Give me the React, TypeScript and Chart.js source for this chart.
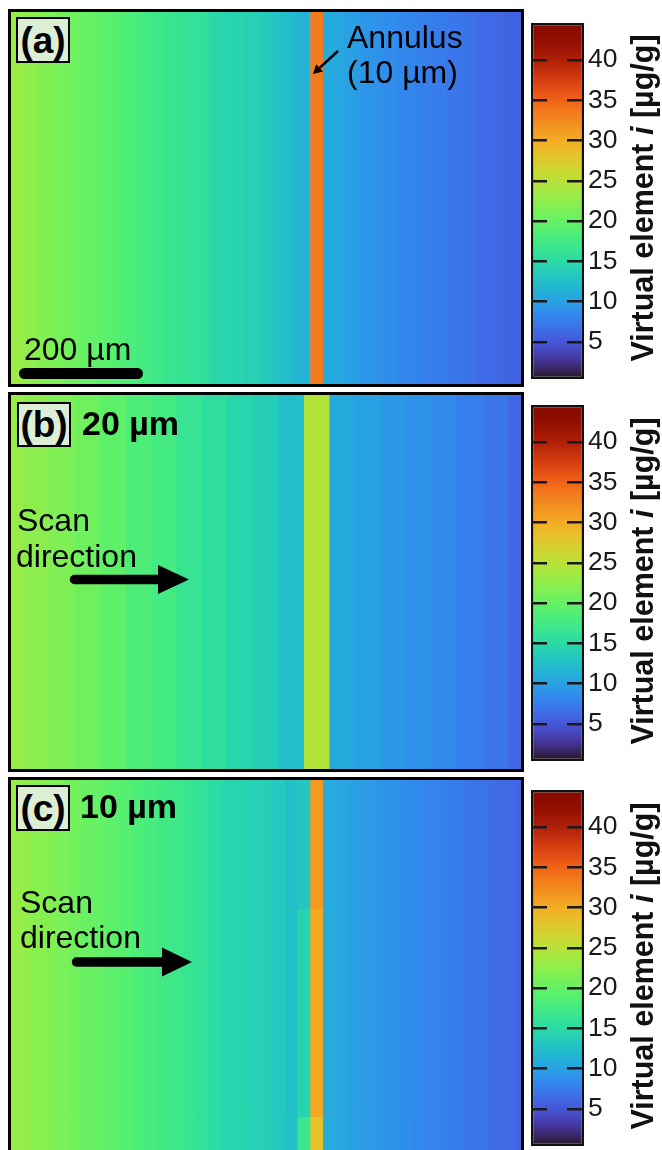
import React, { useEffect, useRef } from "react";
import { Chart, registerables } from "chart.js";

Chart.register(...registerables);

const FONT = '"Liberation Sans", Arial, Helvetica, sans-serif';

// colour scale (µg/g)
const C_MIN = 0.4;
const C_MAX = 44.6;
const COLORBAR_TICKS = [5, 10, 15, 20, 25, 30, 35, 40];
const COLORBAR_TITLE = "Virtual element ";
const COLORBAR_UNIT = " [µg/g]";

// lateral position (µm)
const X_MIN = 0;
const X_MAX = 400;

// (a) original image, 5 µm columns (centres at 2.5, 7.5, ...)
const A_STEP = 5;
const A_VALUES = [
  23.2, 23.0, 22.7, 22.5, 22.0, 21.8, 21.5, 21.1, 21.0, 20.7,
  20.4, 20.1, 20.0, 19.7, 19.4, 19.2, 18.9, 18.6, 18.2, 18.0,
  17.8, 17.5, 17.3, 17.0, 16.7, 16.5, 16.4, 16.2, 16.1, 15.9,
  15.8, 15.0, 14.7, 14.6, 14.5, 14.4, 14.3, 14.1, 13.9, 13.6,
  13.3, 12.9, 12.6, 12.3, 12.0, 11.6, 11.4, 33.4, 33.4, 10.9,
  10.7, 10.5, 10.2, 10.0, 9.6, 9.3, 9.2, 9.0, 8.8, 8.6,
  8.5, 8.3, 8.2, 8.0, 7.8, 7.7, 7.6, 7.5, 7.3, 7.1,
  7.0, 6.8, 6.7, 6.5, 6.4, 6.2, 6.1, 5.9, 5.8, 5.7,
];

// (b) 20 µm scan, columns centred at 0, 20, ..., 400
const B_STEP = 20;
const B_VALUES = [
  23.0, 22.3, 21.5, 20.6, 19.6, 18.4, 17.6, 16.5, 15.5, 14.6, 13.8,
  12.4, 24.7, 10.7, 10.1, 9.5, 9.0, 8.4, 7.7, 7.0, 6.1,
];

// (c) 10 µm scan, columns centred at 0, 10, ..., 400
const C_STEP = 10;
const C_VALUES = [
  23.1, 22.8, 22.2, 21.9, 21.3, 20.8, 20.2, 19.9, 19.4, 19.0,
  18.3, 17.9, 17.4, 17.0, 16.5, 16.0, 15.2, 14.6, 14.5, 14.2,
  13.9, 13.4, 12.6, 14.3, 30.4, 10.8, 10.4, 10.0, 9.6, 9.3,
  9.0, 8.7, 8.3, 8.0, 7.8, 7.5, 7.1, 6.8, 6.5, 6.2,
  5.9,
];
// row bands of (c), bottom -> top (µm)
const C_ROW_HEIGHTS = [29, 164, 102];
const C_EDGE_INDEX = 23;
const C_ANNULUS_INDEX = 24;
const C_EDGE_BY_ROW = [16.8, 14.3, 13.0];
const C_ANNULUS_BY_ROW = [28.3, 30.4, 31.4];

function turbo(t: number): string {
  const x = Math.min(1, Math.max(0, t));
  const r = 0.13572138 + x * (4.6153926 + x * (-42.66032258 + x * (132.13108234 + x * (-152.94239396 + x * 59.28637943))));
  const g = 0.09140261 + x * (2.19418839 + x * (4.84296658 + x * (-14.18503333 + x * (4.27729857 + x * 2.82956604))));
  const b = 0.1066733 + x * (12.64194608 + x * (-60.58204836 + x * (110.36276771 + x * (-89.90310912 + x * 27.34824973))));
  const c = (v: number) => Math.round(0.95 * 255 * Math.min(1, Math.max(0, v)));
  return `rgb(${c(r)},${c(g)},${c(b)})`;
}
const colorFor = (v: number) => turbo((v - C_MIN) / (C_MAX - C_MIN));

type Row = { height: number; values: number[] };

function HeatPanel(props: { left: number; top: number; width: number; height: number; centers: number[]; rows: Row[]; yMax: number }) {
  const ref = useRef<HTMLCanvasElement>(null);
  const { left, top, width, height, centers, rows, yMax } = props;
  useEffect(() => {
    const chart = new Chart(ref.current as HTMLCanvasElement, {
      type: "bar",
      data: {
        datasets: rows.map((row) => ({
          data: centers.map((x) => ({ x, y: row.height })),
          backgroundColor: row.values.map(colorFor),
          borderWidth: 0,
          barPercentage: 1,
          categoryPercentage: 1,
          clip: 0,
        })),
      } as any,
      options: {
        animation: false,
        responsive: false,
        events: [],
        layout: { padding: 0 },
        plugins: { legend: { display: false }, tooltip: { enabled: false } },
        scales: {
          x: { type: "linear", min: X_MIN, max: X_MAX, stacked: true, offset: false, display: false },
          y: { type: "linear", min: 0, max: yMax, stacked: true, display: false },
        },
      } as any,
    });
    return () => chart.destroy();
  }, []);
  return (
    <div style={{ position: "absolute", left, top, width, height, border: "3px solid #000" }}>
      <canvas ref={ref} width={width} height={height} style={{ display: "block", width, height }} />
    </div>
  );
}

function ColorBar(props: { left: number; top: number }) {
  const ref = useRef<HTMLCanvasElement>(null);
  const BAR_W = 53;
  const BAR_H = 356;
  const AXIS_W = 78;
  const PAD = 20;
  useEffect(() => {
    const chart = new Chart(ref.current as HTMLCanvasElement, {
      type: "bar",
      data: {
        labels: [""],
        datasets: [
          {
            data: [[C_MIN, C_MAX]],
            backgroundColor: (ctx: any) => {
              const area = ctx.chart.chartArea;
              if (!area) return "#888";
              const g = ctx.chart.ctx.createLinearGradient(0, area.bottom, 0, area.top);
              for (let i = 0; i <= 48; i++) g.addColorStop(i / 48, turbo(i / 48));
              return g;
            },
            borderColor: "#111",
            borderWidth: 2.5,
            borderSkipped: false,
            barPercentage: 1,
            categoryPercentage: 1,
            inflateAmount: 0,
          },
        ],
      } as any,
      options: {
        animation: false,
        responsive: false,
        events: [],
        layout: { padding: { top: PAD, bottom: PAD, left: 0, right: 0 } },
        plugins: { legend: { display: false }, tooltip: { enabled: false } },
        scales: {
          x: { display: false },
          y: {
            position: "right",
            min: C_MIN,
            max: C_MAX,
            afterBuildTicks: (axis: any) => {
              axis.ticks = COLORBAR_TICKS.map((v) => ({ value: v }));
            },
            afterFit: (axis: any) => {
              axis.width = AXIS_W;
            },
            grid: { z: 1, color: "#1a1a1a", lineWidth: 2.5, drawTicks: false },
            border: { display: false, dash: [16, 20] },
            ticks: { padding: 4, color: "#1a1a1a", font: { family: FONT, size: 26.5 } },
          },
        },
      } as any,
    });
    return () => chart.destroy();
  }, []);
  const w = BAR_W + AXIS_W;
  const h = BAR_H + 2 * PAD;
  return (
    <canvas
      ref={ref}
      width={w}
      height={h}
      style={{ position: "absolute", left: props.left, top: props.top - PAD, width: w, height: h }}
    />
  );
}

function Text(props: { x: number; baseline: number; size: number; bold?: boolean; children: React.ReactNode }) {
  return (
    <div
      style={{
        position: "absolute",
        left: props.x,
        top: props.baseline - 0.8465 * props.size,
        fontSize: props.size,
        lineHeight: `${props.size}px`,
        fontWeight: props.bold ? "bold" : "normal",
        whiteSpace: "nowrap",
        color: "#000",
      }}
    >
      {props.children}
    </div>
  );
}

function LabelBox(props: { left: number; top: number; w: number; h: number; text: string }) {
  return (
    <div
      style={{
        position: "absolute",
        left: props.left,
        top: props.top,
        width: props.w,
        height: props.h,
        boxSizing: "border-box",
        border: "2.5px solid #000",
        background: "#dcefd5",
        display: "flex",
        alignItems: "center",
        justifyContent: "center",
        fontSize: 37,
        lineHeight: "37px",
        fontWeight: "bold",
        color: "#000",
      }}
    >
      {props.text}
    </div>
  );
}

function BarTitle(props: { cx: number; cy: number }) {
  return (
    <div
      style={{
        position: "absolute",
        left: props.cx,
        top: props.cy,
        transform: "translate(-50%, -50%) rotate(-90deg)",
        fontSize: 30.5,
        lineHeight: "30.5px",
        fontWeight: "bold",
        whiteSpace: "nowrap",
        color: "#111",
      }}
    >
      {COLORBAR_TITLE}
      <i>i</i>
      {COLORBAR_UNIT}
    </div>
  );
}

export default function App() {
  const aCenters = A_VALUES.map((_, i) => A_STEP / 2 + i * A_STEP);
  const bCenters = B_VALUES.map((_, i) => i * B_STEP);
  const cCenters = C_VALUES.map((_, i) => i * C_STEP);
  const aRows: Row[] = [{ height: 1, values: A_VALUES }];
  const bRows: Row[] = [{ height: 1, values: B_VALUES }];
  const cRows: Row[] = C_ROW_HEIGHTS.map((h, r) => ({
    height: h,
    values: C_VALUES.map((v, i) =>
      i === C_ANNULUS_INDEX ? C_ANNULUS_BY_ROW[r] : i === C_EDGE_INDEX ? C_EDGE_BY_ROW[r] : v
    ),
  }));
  const cMax = C_ROW_HEIGHTS.reduce((s, h) => s + h, 0);

  return (
    <div
      style={{
        position: "absolute",
        left: 0,
        top: 0,
        width: 662,
        height: 1150,
        overflow: "hidden",
        background: "#fff",
        fontFamily: FONT,
      }}
    >
      <HeatPanel left={8} top={9} width={510} height={372} centers={aCenters} rows={aRows} yMax={1} />
      <HeatPanel left={8} top={392} width={510} height={374} centers={bCenters} rows={bRows} yMax={1} />
      <HeatPanel left={8} top={777} width={510} height={374} centers={cCenters} rows={cRows} yMax={cMax} />

      <ColorBar left={531} top={23} />
      <ColorBar left={531} top={405} />
      <ColorBar left={531} top={790} />

      <BarTitle cx={642} cy={198} />
      <BarTitle cx={642} cy={581} />
      <BarTitle cx={642} cy={966} />

      <LabelBox left={16} top={17} w={54} h={46} text="(a)" />
      <LabelBox left={17} top={402} w={54} h={45} text="(b)" />
      <LabelBox left={16} top={785} w={54} h={46} text="(c)" />

      <Text x={347} baseline={48} size={32}>Annulus</Text>
      <Text x={347} baseline={83} size={32}>(10 µm)</Text>
      <Text x={24} baseline={360} size={32}>200 µm</Text>
      <div style={{ position: "absolute", left: 19, top: 368, width: 124, height: 11, borderRadius: 5.5, background: "#000" }} />

      <Text x={82} baseline={435} size={34} bold>20 µm</Text>
      <Text x={17} baseline={531.5} size={32}>Scan</Text>
      <Text x={16} baseline={567} size={32}>direction</Text>

      <Text x={80} baseline={818} size={34} bold>10 µm</Text>
      <Text x={20} baseline={913} size={32}>Scan</Text>
      <Text x={20} baseline={948} size={32}>direction</Text>

      <svg width={662} height={1150} style={{ position: "absolute", left: 0, top: 0, pointerEvents: "none" }}>
        <line x1={338} y1={51} x2={319.6} y2={67.9} stroke="#000" strokeWidth={2.6} />
        <polygon points="313,74 323,71.6 316.2,64.2" fill="#000" />
        <line x1={74.5} y1={579.5} x2={160} y2={579.5} stroke="#000" strokeWidth={9.5} strokeLinecap="round" />
        <polygon points="158,565 158,594 189,579.5" fill="#000" />
        <line x1={76.5} y1={962} x2={164} y2={962} stroke="#000" strokeWidth={9.5} strokeLinecap="round" />
        <polygon points="162,947.5 162,976.5 192,962" fill="#000" />
      </svg>
    </div>
  );
}
